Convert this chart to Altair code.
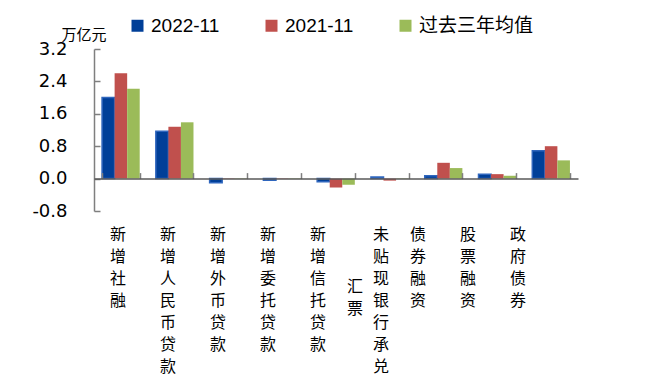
import altair as alt
import pandas as pd

categories = ['新增社融', '新增人民币贷款', '新增外币贷款', '新增委托贷款', '新增信托贷款',
              '未贴现银行承兑汇票', '债券融资', '股票融资', '政府债券']
label_text = ['新增社融', '新增人民币贷款', '新增外币贷款', '新增委托贷款', '新增信托贷款',
              '未贴现银行承兑', '债券融资', '股票融资', '政府债券']
label_extra = ['汇票']
series_names = ['2022-11', '2021-11', '过去三年均值']
v2022 = [2.00, 1.17, -0.10, -0.04, -0.08, 0.04, 0.07, 0.11, 0.69]
v2021 = [2.60, 1.28, -0.01, -0.01, -0.22, -0.05, 0.39, 0.11, 0.80]
vavg = [2.22, 1.39, -0.01, -0.01, -0.15, -0.01, 0.26, 0.07, 0.45]
colors = ['#003F98', '#C0504D', '#9BBB59']
y_ticks = [-0.8, 0.0, 0.8, 1.6, 2.4, 3.2]

W, H = 484, 162
ymin, ymax = -0.8, 3.2
zero_px = H * (ymax - 0) / (ymax - ymin)

rows = []
for i, c in enumerate(categories):
    for s, vals in zip(series_names, [v2022, v2021, vavg]):
        rows.append({'cat': c, 'series': s, 'value': vals[i]})
df = pd.DataFrame(rows)

y_scale = alt.Scale(domain=[ymin, ymax], nice=False, zero=False)
y_axis = alt.Axis(orient='right', offset=-W, values=y_ticks, format='.1f', grid=False,
                  labelExpr="replace(datum.label, '\u2212', '-')",
                  labelOverlap=False, labelBound=False, labelFlush=False,
                  tickSize=6, tickColor='#7f7f7f', tickWidth=1.5,
                  domainColor='#7f7f7f', domainWidth=1.5,
                  labelAlign='right', labelBaseline='middle', labelPadding=-33,
                  labelFont='DejaVu Sans',
                  labelFontSize=18, labelColor='#000000',
                  title='万亿元', titleAngle=0, titleX=-33, titleY=-22,
                  titleAlign='left', titleBaseline='top', titleFont='Noto Sans CJK SC',
                  titleFontSize=15, titleFontWeight='normal', titleColor='#000000')

bars = alt.Chart(df).mark_bar(strokeWidth=1.5).encode(
    x=alt.X('cat:N', sort=categories,
            scale=alt.Scale(domain=categories, paddingInner=0.3, paddingOuter=0.15),
            axis=alt.Axis(orient='top', offset=-zero_px, labels=False, title=None,
                          tickBand='extent', tickSize=6, tickColor='#7f7f7f', tickWidth=1.5,
                          domainColor='#595959', domainWidth=1.5, zindex=1)),
    xOffset=alt.XOffset('series:N', sort=series_names, scale=alt.Scale(domain=series_names, paddingInner=0)),
    y=alt.Y('value:Q', scale=y_scale, axis=y_axis),
    color=alt.Color('series:N', sort=series_names,
                    scale=alt.Scale(domain=series_names, range=colors),
                    legend=alt.Legend(orient='none', legendX=34, legendY=-33, direction='horizontal',
                                      title=None, symbolType='square', symbolSize=144,
                                      symbolStrokeWidth=0,
                                      labelFont='Liberation Sans Narrow, Liberation Sans, Noto Sans CJK SC',
                                      labelFontSize=19, labelColor='#000000', columnPadding=42,
                                      labelOffset=4, padding=0)),
    stroke=alt.condition(alt.datum.series == '2022-11', alt.value('#2f66bd'), alt.value('rgba(0,0,0,0)')),
)

label_scale = alt.Scale(type='point', domain=categories, padding=0.84, align=0.2857)

main_df = pd.DataFrame({'cat': categories, 'text': label_text})
extra_df = pd.DataFrame({'cat': [categories[5]], 'text': label_extra})

def text_layer(data, dx, dy):
    return alt.Chart(data).transform_calculate(
        lines="split(datum.text, '')"
    ).mark_text(baseline='top', align='center', font='Noto Sans CJK SC', fontSize=16,
                lineHeight=22, dx=dx, dy=dy, color='#000000').encode(
        x=alt.X('cat:N', sort=categories, scale=label_scale, axis=None),
        y=alt.Y(datum=ymin, type='quantitative', scale=y_scale, axis=y_axis),
        text='lines:N',
    )

lab_main = text_layer(main_df[main_df['cat'] != categories[5]], 0, 16)
lab_c6 = text_layer(main_df[main_df['cat'] == categories[5]], 13, 16)
lab_extra = text_layer(extra_df, -13, 68)

chart = alt.layer(bars, lab_main, lab_c6, lab_extra).resolve_scale(x='independent').properties(
    width=W, height=H,
    autosize=alt.AutoSizeParams(type='none'),
    padding={'left': 86, 'top': 41, 'right': 68, 'bottom': 169},
).configure_view(stroke=None)

chart.save("out.html", embed_options={"renderer": "svg", "actions": False})
